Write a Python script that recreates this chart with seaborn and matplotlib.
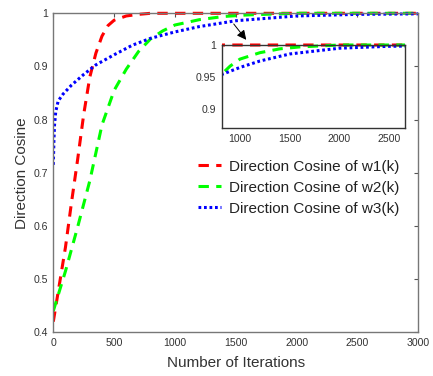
import matplotlib
matplotlib.use("Agg")
import matplotlib.pyplot as plt
from matplotlib.transforms import Bbox, TransformedBbox
import seaborn as sns
import pandas as pd

# ---- data ----
x_w1 = [0, 50, 100, 150, 200, 250, 300, 350, 400, 450, 500, 600, 700, 800, 1000, 1500, 2000, 2500, 3000]
y_w1 = [0.42, 0.49, 0.56, 0.645, 0.725, 0.81, 0.88, 0.925, 0.957, 0.977, 0.987, 0.995, 0.998, 1.0, 1.0, 1.0, 1.0, 1.0, 1.0]

x_w2 = [0, 100, 200, 300, 400, 500, 600, 700, 800, 900, 1000, 1200, 1400, 1600, 2000, 2500, 3000]
y_w2 = [0.44, 0.515, 0.598, 0.685, 0.79, 0.855, 0.895, 0.928, 0.952, 0.967, 0.978, 0.988, 0.994, 0.997, 1.0, 1.0, 1.0]

x_w3 = [0, 5, 10, 20, 40, 80, 150, 250, 350, 500, 650, 800, 1000, 1200, 1500, 2000, 2500, 3000]
y_w3 = [0.715, 0.76, 0.79, 0.815, 0.835, 0.848, 0.865, 0.885, 0.903, 0.922, 0.94, 0.953, 0.965, 0.975, 0.986, 0.995, 0.998, 0.999]

labels = ["Direction Cosine of w1(k)", "Direction Cosine of w2(k)", "Direction Cosine of w3(k)"]
main_xticks = [0, 500, 1000, 1500, 2000, 2500, 3000]
main_yticks = [0.4, 0.5, 0.6, 0.7, 0.8, 0.9, 1.0]
inset_xticks = [1000, 1500, 2000, 2500]
inset_yticks = [0.9, 0.95, 1.0]

sns.set_style("white")
plt.rcParams["font.family"] = ["Liberation Sans", "DejaVu Sans"]

series = [
    (x_w1, y_w1, "#ff0000", (0, (3.4, 2.4)), 2.2),
    (x_w2, y_w2, "#00ff00", (0, (3.4, 2.4)), 2.2),
    (x_w3, y_w3, "#0000ff", (0, (0.9, 0.9)), 2.2),
]


def extend_clip(axis):
    bb = TransformedBbox(Bbox([[0, -0.03], [1, 1.03]]), axis.transAxes)
    for ln in axis.get_lines():
        ln.set_clip_box(bb)


fig = plt.figure(figsize=(4.33, 3.76), dpi=100)
ax = fig.add_axes([53.3 / 433, (376 - 332.3) / 376, (418.3 - 53.3) / 433, (332.3 - 13.3) / 376])

for (xs, ys, c, ls, lw), lab in zip(series, labels):
    df = pd.DataFrame({"x": xs, "y": ys})
    sns.lineplot(data=df, x="x", y="y", ax=ax, color=c, linestyle=ls, lw=lw, label=lab)
extend_clip(ax)

ax.set_xlim(0, 3000)
ax.set_ylim(0.4, 1.0)
ax.set_xticks(main_xticks)
ax.set_yticks(main_yticks)
ax.set_yticklabels(["%g" % v for v in main_yticks])
ax.set_xlabel("Number of Iterations", fontsize=11, color="#333333", labelpad=6)
ax.set_ylabel("Direction Cosine", fontsize=11, color="#333333", labelpad=3)
ax.tick_params(direction="in", length=3, width=0.8, top=True, right=True,
               labelsize=7.6, colors="#555555", labelcolor="#333333", pad=4)
for sp in ax.spines.values():
    sp.set_color("#777777")
    sp.set_linewidth(1.0)

leg = ax.legend(loc="upper left", bbox_to_anchor=(0.38, 0.56), frameon=False,
                fontsize=11, handlelength=1.5, handletextpad=0.5, labelspacing=0.45,
                borderaxespad=0)
for t in leg.get_texts():
    t.set_color("#222222")

# inset
axi = fig.add_axes([221.7 / 433, (376 - 128.3) / 376, (405 - 221.7) / 433, (128.3 - 45) / 376])
for (xs, ys, c, ls, lw), lab in zip(series, labels):
    df = pd.DataFrame({"x": xs, "y": ys})
    sns.lineplot(data=df, x="x", y="y", ax=axi, color=c, linestyle=ls, lw=lw, legend=False)
axi.set_xlim(816, 2658)
axi.set_ylim(0.87, 1.0)
axi.set_xticks(inset_xticks)
axi.set_yticks(inset_yticks)
axi.set_yticklabels(["%g" % v for v in inset_yticks])
axi.set_xlabel("")
axi.set_ylabel("")
axi.tick_params(direction="in", length=2.5, width=0.8, labelsize=7.6,
                colors="#333333", labelcolor="#333333", pad=4)
for sp in axi.spines.values():
    sp.set_color("#333333")
    sp.set_linewidth(1.0)
extend_clip(axi)

ax.annotate("", xy=(1600, 0.946), xytext=(1469, 0.984),
            arrowprops=dict(arrowstyle="-|>", color="black", lw=0.7, mutation_scale=14))

fig.savefig("out.png", dpi=100)
